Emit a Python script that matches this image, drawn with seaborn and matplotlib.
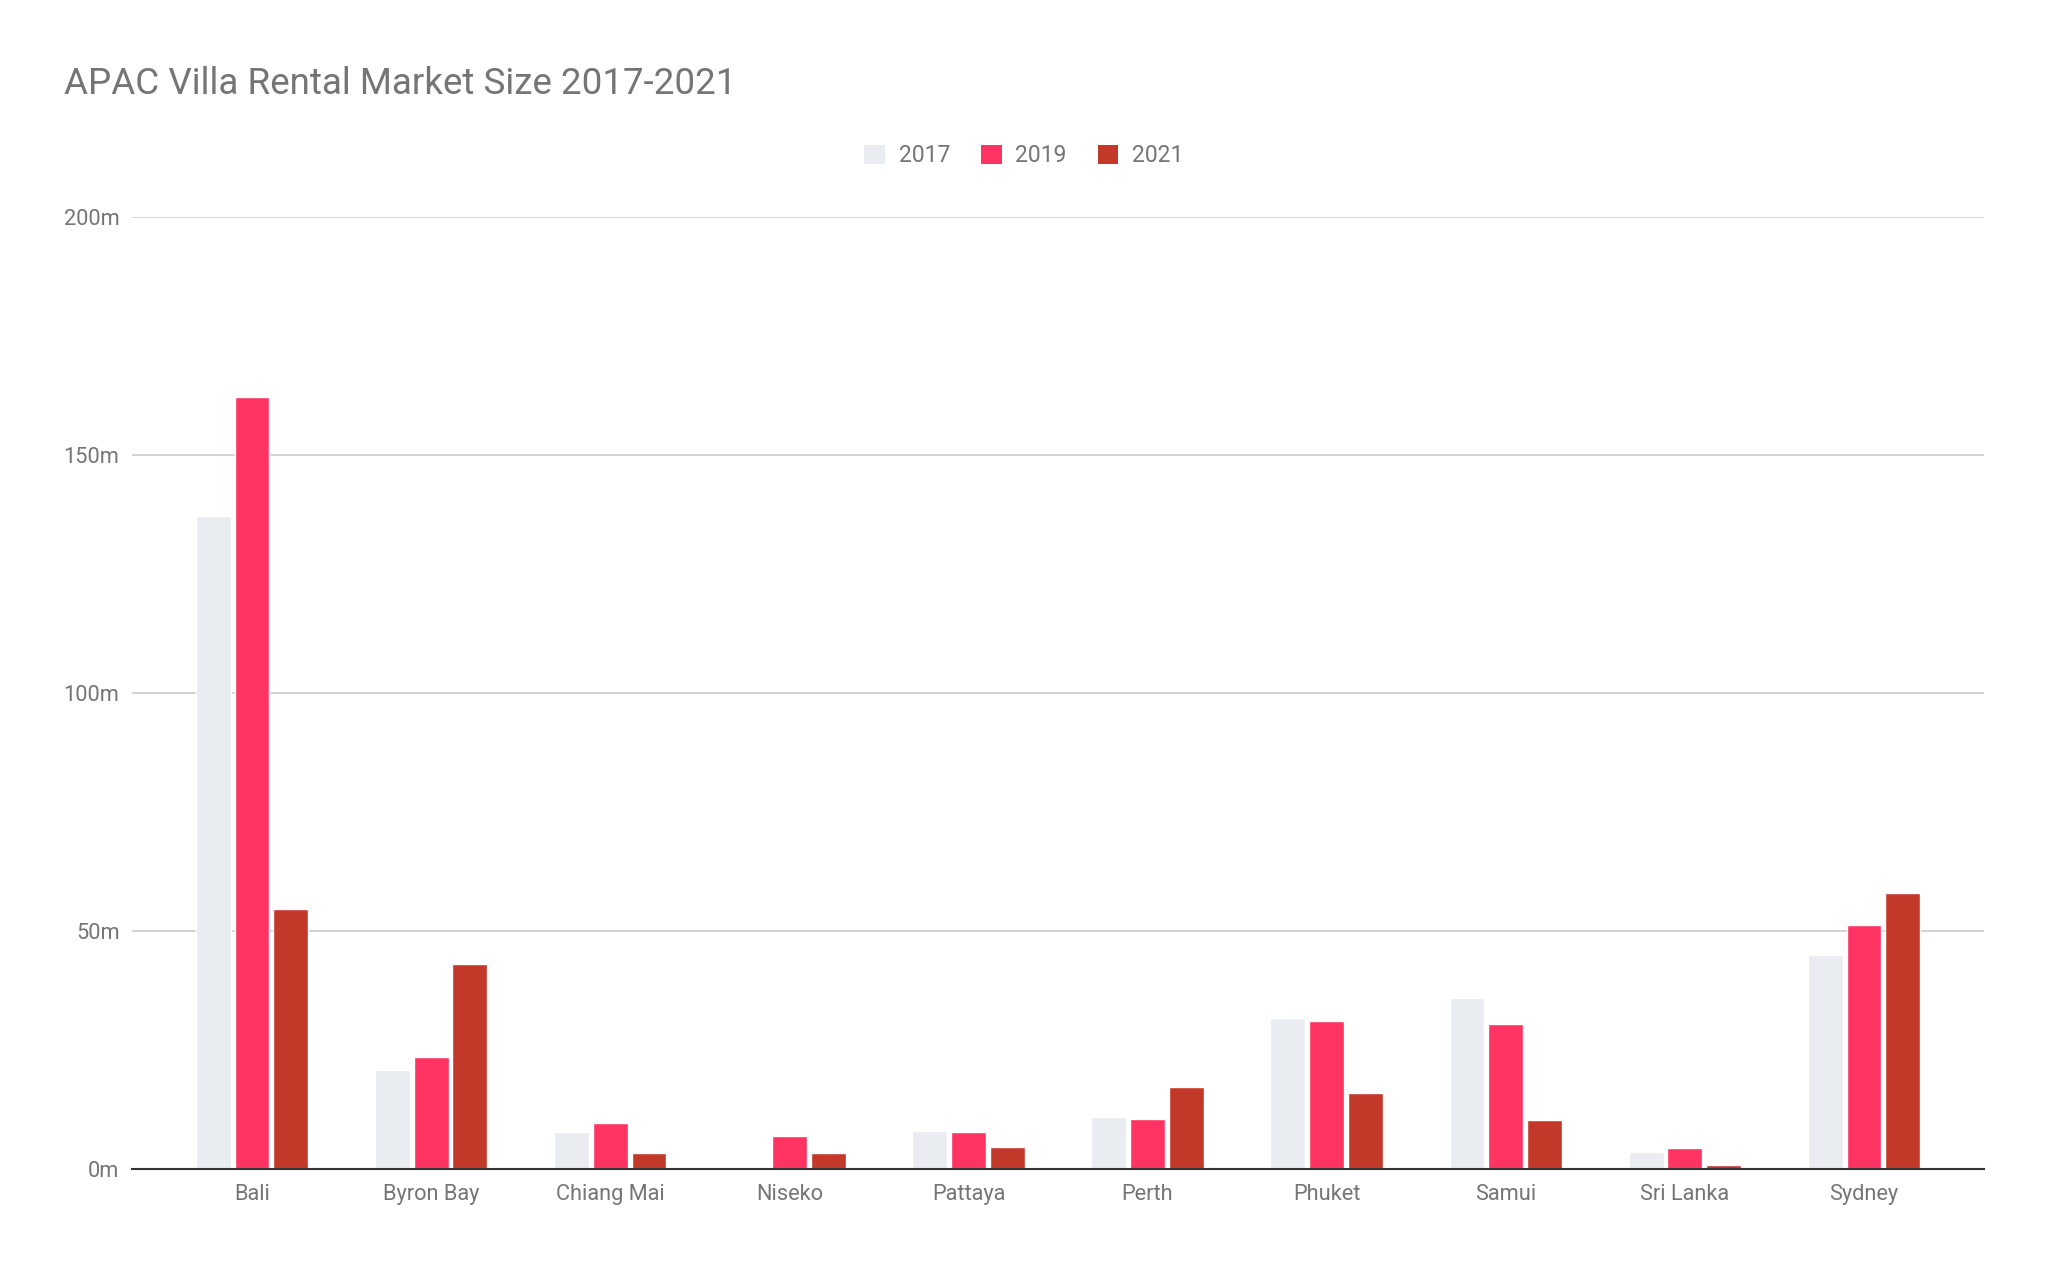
import matplotlib
matplotlib.use("Agg")
import matplotlib.pyplot as plt
import seaborn as sns
import pandas as pd
from matplotlib.patches import Patch
from matplotlib.ticker import FuncFormatter

cities = ["Bali", "Byron Bay", "Chiang Mai", "Niseko", "Pattaya", "Perth",
          "Phuket", "Samui", "Sri Lanka", "Sydney"]
years = ["2017", "2019", "2021"]
v2017 = [137.2, 20.9, 7.7, 0.0, 8.0, 11.0, 31.8, 35.9, 3.6, 45.0]
v2019 = [162.1, 23.6, 9.6, 6.9, 7.7, 10.4, 31.0, 30.5, 4.4, 51.3]
v2021 = [54.6, 43.1, 3.3, 3.3, 4.7, 17.3, 15.9, 10.2, 0.8, 57.9]
colors = ["#E9EDF1", "#FF3462", "#C33929"]

rows = []
for y, vals in zip(years, [v2017, v2019, v2021]):
    for c, v in zip(cities, vals):
        rows.append({"city": c, "year": y, "value": v})
df = pd.DataFrame(rows)

sns.set_theme(style="white")
plt.rcParams["font.family"] = ["Roboto", "DejaVu Sans"]
text_color = "#757575"

fig = plt.figure(figsize=(20.48, 12.65), dpi=100)
ax = fig.add_axes([132/2048, 1-1169/1265, (1984-132)/2048, (1169-217)/1265])

sns.barplot(data=df, x="city", y="value", hue="year", order=cities, hue_order=years,
            palette=colors, saturation=1, width=0.65, gap=0.1, ax=ax, legend=False,
            errorbar=None)

ax.set_ylim(0, 200)
ax.set_xlim(-0.67, 9.67)
ax.set_yticks([0, 50, 100, 150, 200])
ax.yaxis.set_major_formatter(FuncFormatter(lambda v, p: f"{int(v)}m"))
ax.grid(axis="y", color="#CCCCCC", linewidth=1.2)
ax.set_axisbelow(True)
for s in ["top", "right", "left"]:
    ax.spines[s].set_visible(False)
ax.spines["bottom"].set_color("#333333")
ax.spines["bottom"].set_linewidth(1.5)
ax.spines["bottom"].set_zorder(5)
ax.tick_params(axis="both", length=0, labelsize=15.7, colors=text_color)
ax.tick_params(axis="y", pad=9)
ax.tick_params(axis="x", pad=11)
ax.set_xlabel("")
ax.set_ylabel("")

fig.text(64/2048, 1-84/1265, "APAC Villa Rental Market Size 2017-2021",
         fontsize=26.5, color=text_color, va="center", ha="left")

handles = [Patch(facecolor=c, edgecolor="none", label=y) for c, y in zip(colors, years)]
fig.legend(handles=handles, loc="center", bbox_to_anchor=(0.5, 1-156/1265), ncol=3,
           frameon=False, fontsize=16.5, handlelength=0.9, handleheight=0.9,
           handletextpad=0.6, columnspacing=1.35, labelcolor=text_color)

fig.savefig("out.png", dpi=100, facecolor="white")
